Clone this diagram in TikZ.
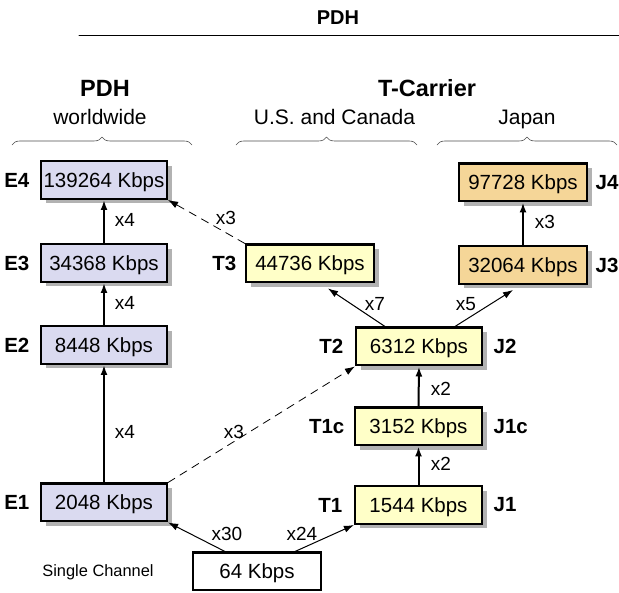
\documentclass[tikz,border=0pt]{standalone}
\usepackage{fontspec}
\setmainfont{Liberation Sans}
\usetikzlibrary{arrows.meta,shadows,decorations.pathreplacing}
\definecolor{Efill}{RGB}{218,218,240}
\definecolor{Tfill}{RGB}{255,255,200}
\definecolor{Jfill}{RGB}{245,214,152}
\definecolor{Shade}{RGB}{178,178,178}

\begin{document}
\begin{tikzpicture}[x=1pt,y=1pt,line cap=round,line join=round,
  box/.style={draw,line width=2.2pt,line join=miter,line cap=butt,inner sep=0pt,minimum height=37.8pt,text depth=0pt,font=\fontsize{20.5}{24}\selectfont},
  sbox/.style={box,drop shadow={shadow xshift=4.5pt,shadow yshift=-4.5pt,fill=Shade,opacity=1}},
  tag/.style={font=\bfseries\fontsize{20.5}{24}\selectfont},
  mult/.style={font=\fontsize{19}{22}\selectfont},
  head/.style={anchor=base,font=\bfseries\fontsize{23.5}{26}\selectfont},
  sub/.style={anchor=base,font=\fontsize{21}{24}\selectfont},
  upline/.style={line width=2pt,-{Latex[length=10pt,width=7pt]}},
  slant/.style={line width=1pt,-{Latex[length=10pt,width=7pt]}},
  dashline/.style={line width=0.8pt,dash pattern=on 8pt off 6pt,-{Latex[length=10pt,width=7pt]}},
  brc/.style={draw=black!70,line width=0.6pt,decorate,decoration={brace,amplitude=8pt}}]
\path[use as bounding box] (0,0) rectangle (619,593);

% titles
\node[anchor=base,font=\bfseries\fontsize{20}{24}\selectfont] (title) at (338,568) {PDH};
\draw[line width=1pt] (79,557) -- (619,557);
\node[head] (pdh) at (105,496) {PDH};
\node[head] (tcar) at (427,496) {T-Carrier};
\node[sub] (world) at (100,468) {worldwide};
\node[sub] (usca) at (334.5,468) {U.S. and Canada};
\node[sub] (japan) at (527,468) {Japan};
\draw[brc] (12,448) -- (192,448);
\draw[brc] (236,448) -- (417,448);
\draw[brc] (437,448) -- (617,448);

% boxes
\node[sbox,fill=Efill,minimum width=126pt] (e4) at (104,413) {139264 Kbps};
\node[sbox,fill=Efill,minimum width=126pt] (e3) at (104,330) {34368 Kbps};
\node[sbox,fill=Efill,minimum width=126pt] (e2) at (104,248) {8448 Kbps};
\node[sbox,fill=Efill,minimum width=126pt] (e1) at (104,90.5) {2048 Kbps};
\node[sbox,fill=Tfill,minimum width=128pt] (t3) at (310,329.5) {44736 Kbps};
\node[sbox,fill=Tfill,minimum width=126pt] (t2) at (419,246.5) {6312 Kbps};
\node[sbox,fill=Tfill,minimum width=127pt] (t1c) at (418.5,166.5) {3152 Kbps};
\node[sbox,fill=Tfill,minimum width=127pt] (t1) at (418.5,88) {1544 Kbps};
\node[sbox,fill=Jfill,minimum width=128pt] (j3) at (523,328) {32064 Kbps};
\node[sbox,fill=Jfill,minimum width=128pt] (j4) at (523,410.5) {97728 Kbps};
\node[box,fill=white,minimum width=128pt] (ch) at (257,21.5) {64 Kbps};
\node[anchor=base,font=\fontsize{16.4}{20}\selectfont] (single) at (98,16) {Single Channel};

% tags
\node[tag,anchor=east] (e4tag) at ([xshift=-7pt]e4.west) {E4};
\node[tag,anchor=east] (e3tag) at ([xshift=-7pt]e3.west) {E3};
\node[tag,anchor=east] (e2tag) at ([xshift=-7pt]e2.west) {E2};
\node[tag,anchor=east] (e1tag) at ([xshift=-7pt]e1.west) {E1};
\node[tag,anchor=east] (t3tag) at ([xshift=-5pt]t3.west) {T3};
\node[tag,anchor=east] (t2tag) at ([xshift=-8pt]t2.west) {T2};
\node[tag,anchor=east] (t1ctag) at ([xshift=-6pt]t1c.west) {T1c};
\node[tag,anchor=east] (t1tag) at ([xshift=-8pt]t1.west) {T1};
\node[tag,anchor=west] (j2tag) at ([xshift=7pt]t2.east) {J2};
\node[tag,anchor=west] (j1ctag) at ([xshift=7pt]t1c.east) {J1c};
\node[tag,anchor=west] (j1tag) at ([xshift=7pt]t1.east) {J1};
\node[tag,anchor=west] (j3tag) at ([xshift=4pt]j3.east) {J3};
\node[tag,anchor=west] (j4tag) at ([xshift=4pt]j4.east) {J4};

% connectors
\draw[upline] (e1.north) -- (e2.south);
\draw[upline] (e2.north) -- (e3.south);
\draw[upline] (e3.north) -- (e4.south);
\draw[dashline] (t3.north west) -- (e4.south east);
\draw[dashline] (e1.north east) -- (t2.south west);
\draw[slant] ([xshift=-32pt]ch.north) -- (e1.south east);
\draw[slant] ([xshift=38pt]ch.north) -- (t1.south west);
\draw[upline] (t1.north) -- (t1c.south);
\draw[upline] (t1c.north) -- (t2.south);
\draw[slant] ([xshift=-34pt]t2.north) -- ([xshift=18pt,yshift=-5pt]t3.south);
\draw[slant] ([xshift=36pt]t2.north) -- ([xshift=-10pt,yshift=-5pt]j3.south);
\draw[upline] (j3.north) -- (j4.south);

% multipliers
\node[mult] (m1) at (125,161) {x4};
\node[mult] (m2) at (125,290) {x4};
\node[mult] (m3) at (125,373) {x4};
\node[mult] (m4) at (226,375) {x3};
\node[mult] (m5) at (234,161) {x3};
\node[mult] (m6) at (227,59) {x30};
\node[mult] (m7) at (302,59) {x24};
\node[mult] (m8) at (441,129) {x2};
\node[mult] (m9) at (441,204) {x2};
\node[mult] (m10) at (375,289) {x7};
\node[mult] (m11) at (466,289) {x5};
\node[mult] (m12) at (545,371) {x3};
\end{tikzpicture}
\end{document}
